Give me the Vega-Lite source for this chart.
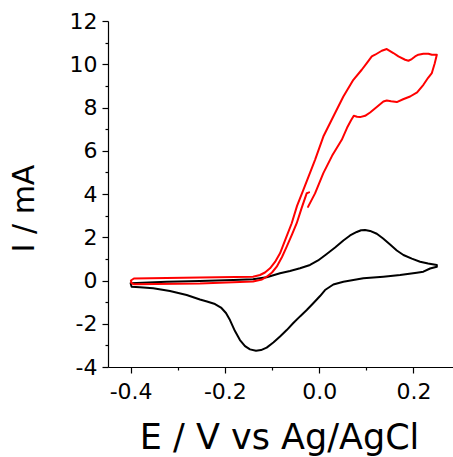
{
  "$schema": "https://vega.github.io/schema/vega-lite/v6.json",
  "width": 345,
  "height": 346,
  "autosize": "none",
  "padding": {"left": 108, "top": 21, "right": 0, "bottom": 90},
  "background": "white",
  "config": {
    "view": {"stroke": null},
    "font": "DejaVu Sans",
    "axis": {
      "grid": false,
      "domainColor": "#000000",
      "domainWidth": 1.2,
      "tickColor": "#000000",
      "tickWidth": 1.2,
      "labelColor": "#000000",
      "titleColor": "#000000",
      "labelFont": "DejaVu Sans",
      "titleFont": "DejaVu Sans",
      "labelFontSize": 22,
      "titleFontWeight": "normal"
    }
  },
  "datasets": {
    "cv": [
      {"s": "black", "o": 1, "E": -0.400, "I": -0.13},
      {"s": "black", "o": 2, "E": -0.3236, "I": -0.056},
      {"s": "black", "o": 3, "E": -0.2529, "I": -0.02},
      {"s": "black", "o": 4, "E": -0.1822, "I": 0.02},
      {"s": "black", "o": 5, "E": -0.1403, "I": 0.056},
      {"s": "black", "o": 6, "E": -0.1113, "I": 0.148},
      {"s": "black", "o": 7, "E": -0.083, "I": 0.333},
      {"s": "black", "o": 8, "E": -0.0618, "I": 0.44},
      {"s": "black", "o": 9, "E": -0.0406, "I": 0.565},
      {"s": "black", "o": 10, "E": -0.0194, "I": 0.718},
      {"s": "black", "o": 11, "E": -0.0023, "I": 0.926},
      {"s": "black", "o": 12, "E": 0.0161, "I": 1.227},
      {"s": "black", "o": 13, "E": 0.0338, "I": 1.528},
      {"s": "black", "o": 14, "E": 0.0514, "I": 1.852},
      {"s": "black", "o": 15, "E": 0.0656, "I": 2.083},
      {"s": "black", "o": 16, "E": 0.0798, "I": 2.245},
      {"s": "black", "o": 17, "E": 0.089, "I": 2.324},
      {"s": "black", "o": 18, "E": 0.0975, "I": 2.338},
      {"s": "black", "o": 19, "E": 0.1081, "I": 2.292},
      {"s": "black", "o": 20, "E": 0.1223, "I": 2.162},
      {"s": "black", "o": 21, "E": 0.1357, "I": 1.944},
      {"s": "black", "o": 22, "E": 0.1505, "I": 1.667},
      {"s": "black", "o": 23, "E": 0.1648, "I": 1.389},
      {"s": "black", "o": 24, "E": 0.1788, "I": 1.181},
      {"s": "black", "o": 25, "E": 0.1966, "I": 1.009},
      {"s": "black", "o": 26, "E": 0.2142, "I": 0.870},
      {"s": "black", "o": 27, "E": 0.2312, "I": 0.787},
      {"s": "black", "o": 28, "E": 0.2497, "I": 0.718},
      {"s": "black", "o": 29, "E": 0.2497, "I": 0.639},
      {"s": "black", "o": 30, "E": 0.2354, "I": 0.556},
      {"s": "black", "o": 31, "E": 0.2212, "I": 0.407},
      {"s": "black", "o": 32, "E": 0.2072, "I": 0.361},
      {"s": "black", "o": 33, "E": 0.1718, "I": 0.255},
      {"s": "black", "o": 34, "E": 0.1363, "I": 0.176},
      {"s": "black", "o": 35, "E": 0.0938, "I": 0.102},
      {"s": "black", "o": 36, "E": 0.0514, "I": -0.056},
      {"s": "black", "o": 37, "E": 0.0301, "I": -0.185},
      {"s": "black", "o": 38, "E": 0.0125, "I": -0.44},
      {"s": "black", "o": 39, "E": 0.0019, "I": -0.718},
      {"s": "black", "o": 40, "E": -0.013, "I": -1.065},
      {"s": "black", "o": 41, "E": -0.0263, "I": -1.366},
      {"s": "black", "o": 42, "E": -0.0406, "I": -1.66},
      {"s": "black", "o": 43, "E": -0.0548, "I": -1.968},
      {"s": "black", "o": 44, "E": -0.0688, "I": -2.292},
      {"s": "black", "o": 45, "E": -0.083, "I": -2.593},
      {"s": "black", "o": 46, "E": -0.0972, "I": -2.870},
      {"s": "black", "o": 47, "E": -0.1113, "I": -3.102},
      {"s": "black", "o": 48, "E": -0.1234, "I": -3.218},
      {"s": "black", "o": 49, "E": -0.134, "I": -3.25},
      {"s": "black", "o": 50, "E": -0.1467, "I": -3.185},
      {"s": "black", "o": 51, "E": -0.1573, "I": -3.032},
      {"s": "black", "o": 52, "E": -0.168, "I": -2.755},
      {"s": "black", "o": 53, "E": -0.1786, "I": -2.338},
      {"s": "black", "o": 54, "E": -0.1892, "I": -1.829},
      {"s": "black", "o": 55, "E": -0.1977, "I": -1.505},
      {"s": "black", "o": 56, "E": -0.2083, "I": -1.25},
      {"s": "black", "o": 57, "E": -0.221, "I": -1.088},
      {"s": "black", "o": 58, "E": -0.238, "I": -0.972},
      {"s": "black", "o": 59, "E": -0.2529, "I": -0.88},
      {"s": "black", "o": 60, "E": -0.2811, "I": -0.671},
      {"s": "black", "o": 61, "E": -0.3166, "I": -0.486},
      {"s": "black", "o": 62, "E": -0.352, "I": -0.361},
      {"s": "black", "o": 63, "E": -0.3803, "I": -0.315},
      {"s": "black", "o": 64, "E": -0.3979, "I": -0.287},
      {"s": "black", "o": 65, "E": -0.400, "I": -0.13},
      {"s": "red", "o": 1, "E": -0.0236, "I": 3.403},
      {"s": "red", "o": 2, "E": -0.0087, "I": 4.028},
      {"s": "red", "o": 3, "E": 0.0089, "I": 4.963},
      {"s": "red", "o": 4, "E": 0.0274, "I": 5.764},
      {"s": "red", "o": 5, "E": 0.048, "I": 6.505},
      {"s": "red", "o": 6, "E": 0.0592, "I": 7.06},
      {"s": "red", "o": 7, "E": 0.0677, "I": 7.407},
      {"s": "red", "o": 8, "E": 0.0735, "I": 7.616},
      {"s": "red", "o": 9, "E": 0.0805, "I": 7.569},
      {"s": "red", "o": 10, "E": 0.0868, "I": 7.556},
      {"s": "red", "o": 11, "E": 0.0975, "I": 7.616},
      {"s": "red", "o": 12, "E": 0.1081, "I": 7.769},
      {"s": "red", "o": 13, "E": 0.1229, "I": 8.032},
      {"s": "red", "o": 14, "E": 0.1363, "I": 8.278},
      {"s": "red", "o": 15, "E": 0.1435, "I": 8.324},
      {"s": "red", "o": 16, "E": 0.1527, "I": 8.287},
      {"s": "red", "o": 17, "E": 0.1648, "I": 8.25},
      {"s": "red", "o": 18, "E": 0.1781, "I": 8.380},
      {"s": "red", "o": 19, "E": 0.193, "I": 8.509},
      {"s": "red", "o": 20, "E": 0.2079, "I": 8.704},
      {"s": "red", "o": 21, "E": 0.2212, "I": 9.051},
      {"s": "red", "o": 22, "E": 0.2312, "I": 9.375},
      {"s": "red", "o": 23, "E": 0.2391, "I": 9.593},
      {"s": "red", "o": 24, "E": 0.245, "I": 10.023},
      {"s": "red", "o": 25, "E": 0.2497, "I": 10.44},
      {"s": "red", "o": 26, "E": 0.2391, "I": 10.44},
      {"s": "red", "o": 27, "E": 0.2318, "I": 10.486},
      {"s": "red", "o": 28, "E": 0.2212, "I": 10.486},
      {"s": "red", "o": 29, "E": 0.2106, "I": 10.44},
      {"s": "red", "o": 30, "E": 0.2036, "I": 10.361},
      {"s": "red", "o": 31, "E": 0.1966, "I": 10.241},
      {"s": "red", "o": 32, "E": 0.1894, "I": 10.162},
      {"s": "red", "o": 33, "E": 0.1824, "I": 10.208},
      {"s": "red", "o": 34, "E": 0.1682, "I": 10.361},
      {"s": "red", "o": 35, "E": 0.1575, "I": 10.519},
      {"s": "red", "o": 36, "E": 0.1435, "I": 10.704},
      {"s": "red", "o": 37, "E": 0.1329, "I": 10.625},
      {"s": "red", "o": 38, "E": 0.1187, "I": 10.44},
      {"s": "red", "o": 39, "E": 0.1117, "I": 10.361},
      {"s": "red", "o": 40, "E": 0.1011, "I": 10.056},
      {"s": "red", "o": 41, "E": 0.0904, "I": 9.745},
      {"s": "red", "o": 42, "E": 0.0726, "I": 9.282},
      {"s": "red", "o": 43, "E": 0.0514, "I": 8.509},
      {"s": "red", "o": 44, "E": 0.0301, "I": 7.583},
      {"s": "red", "o": 45, "E": 0.0089, "I": 6.657},
      {"s": "red", "o": 46, "E": -0.0087, "I": 5.579},
      {"s": "red", "o": 47, "E": -0.0335, "I": 4.190},
      {"s": "red", "o": 48, "E": -0.0469, "I": 3.449},
      {"s": "red", "o": 49, "E": -0.0582, "I": 2.648},
      {"s": "red", "o": 50, "E": -0.0703, "I": 1.968},
      {"s": "red", "o": 51, "E": -0.083, "I": 1.259},
      {"s": "red", "o": 52, "E": -0.0936, "I": 0.856},
      {"s": "red", "o": 53, "E": -0.1042, "I": 0.565},
      {"s": "red", "o": 54, "E": -0.1149, "I": 0.370},
      {"s": "red", "o": 55, "E": -0.1255, "I": 0.255},
      {"s": "red", "o": 56, "E": -0.1403, "I": 0.176},
      {"s": "red", "o": 57, "E": -0.2529, "I": 0.139},
      {"s": "red", "o": 58, "E": -0.359, "I": 0.102},
      {"s": "red", "o": 59, "E": -0.393, "I": 0.093},
      {"s": "red", "o": 60, "E": -0.3994, "I": 0.0},
      {"s": "red", "o": 61, "E": -0.3983, "I": -0.116},
      {"s": "red", "o": 62, "E": -0.393, "I": -0.176},
      {"s": "red", "o": 63, "E": -0.2529, "I": -0.139},
      {"s": "red", "o": 64, "E": -0.1403, "I": -0.046},
      {"s": "red", "o": 65, "E": -0.1212, "I": 0.046},
      {"s": "red", "o": 66, "E": -0.1113, "I": 0.176},
      {"s": "red", "o": 67, "E": -0.1, "I": 0.370},
      {"s": "red", "o": 68, "E": -0.09, "I": 0.639},
      {"s": "red", "o": 69, "E": -0.0788, "I": 1.088},
      {"s": "red", "o": 70, "E": -0.0688, "I": 1.565},
      {"s": "red", "o": 71, "E": -0.0575, "I": 2.13},
      {"s": "red", "o": 72, "E": -0.0476, "I": 2.648},
      {"s": "red", "o": 73, "E": -0.0374, "I": 3.333},
      {"s": "red", "o": 74, "E": -0.0263, "I": 4.037},
      {"s": "red", "o": 75, "E": -0.0214, "I": 4.074}
    ]
  },
  "data": {"name": "cv"},
  "mark": {"type": "line", "strokeWidth": 2, "clip": true, "strokeJoin": "round", "strokeCap": "round"},
  "encoding": {
    "x": {
      "field": "E",
      "type": "quantitative",
      "scale": {"domain": [-0.448, 0.284], "nice": false, "zero": false},
      "axis": {
        "title": "E / V vs Ag/AgCl",
        "titleFontSize": 35,
        "titleAlign": "center",
        "titleBaseline": "alphabetic",
        "titleX": 171,
        "titleY": 81,
        "values": [-0.4, -0.3, -0.2, -0.1, 0, 0.1, 0.2],
        "labelExpr": "abs(round(datum.value*10)) % 2 == 1 ? '' : (datum.value < -0.0001 ? '-' : '') + format(abs(datum.value), '.1f')",
        "tickSize": {"condition": {"test": "abs(round(datum.value*10)) % 2 == 1", "value": 3}, "value": 6},
        "labelPadding": 8,
        "labelFlush": false
      }
    },
    "y": {
      "field": "I",
      "type": "quantitative",
      "scale": {"domain": [-4, 12], "nice": false, "zero": false},
      "axis": {
        "title": "I / mA",
        "titleFontSize": 30,
        "titleAngle": -90,
        "titleAlign": "center",
        "titleBaseline": "alphabetic",
        "titleX": -75,
        "titleY": 187,
        "values": [-4, -3, -2, -1, 0, 1, 2, 3, 4, 5, 6, 7, 8, 9, 10, 11, 12],
        "labelExpr": "abs(datum.value) % 2 == 1 ? '' : (datum.value < 0 ? '-' : '') + format(abs(datum.value), 'd')",
        "tickSize": {"condition": {"test": "abs(datum.value) % 2 == 1", "value": 3}, "value": 6},
        "labelPadding": 5,
        "labelFlush": false
      }
    },
    "order": {"field": "o", "type": "quantitative"},
    "detail": {"field": "s", "type": "nominal"},
    "color": {
      "field": "s",
      "type": "nominal",
      "scale": {"domain": ["black", "red"], "range": ["#000000", "#ff0000"]},
      "legend": null
    }
  }
}
